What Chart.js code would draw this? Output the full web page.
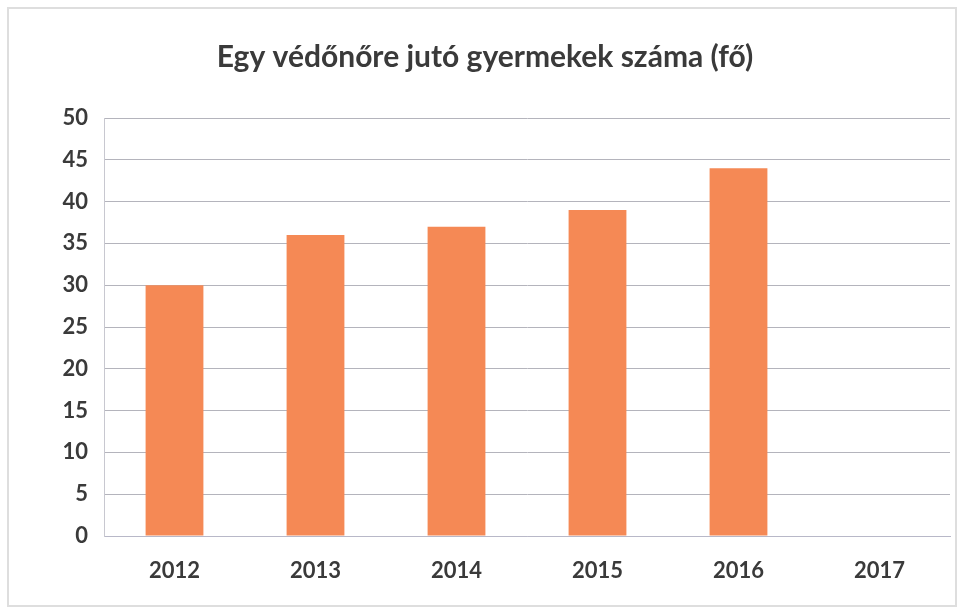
<!DOCTYPE html>
<html>
<head>
<meta charset="utf-8">
<script src="https://cdn.jsdelivr.net/npm/chart.js@4/dist/chart.umd.min.js"></script>
<style>
    html, body { margin: 0; padding: 0; background: #fff; }
    #wrap { position: relative; width: 963px; height: 611px; }
    #frame {
        position: absolute; left: 7px; top: 7px; width: 946px; height: 596px;
        border: 2px solid #dedede; pointer-events: none;
    }
</style>
</head>
<body>
<div id="wrap">
    <canvas id="chart" width="963" height="611"></canvas>
    <div id="frame"></div>
</div>
<script>
// data
const years = ['2012', '2013', '2014', '2015', '2016', '2017'];
const childrenPerNurse = [30, 36, 37, 39, 44, null];
const chartTitle = 'Egy védőnőre jutó gyermekek száma (fő)';

const textColor = '#3a3a3a';
const fontFamily = 'Lato, "Open Sans", sans-serif';

const ctx = document.getElementById('chart').getContext('2d');

new Chart(ctx, {
    type: 'bar',
    data: {
        labels: years,
        datasets: [{
            label: chartTitle,
            data: childrenPerNurse,
            backgroundColor: '#f58955',
            borderWidth: 0,
            categoryPercentage: 1,
            barPercentage: 0.41
        }]
    },
    options: {
        responsive: false,
        animation: false,
        layout: {
            padding: { left: 20, right: 13, top: 20, bottom: 25 }
        },
        plugins: {
            legend: { display: false },
            tooltip: { enabled: false },
            title: {
                display: true,
                text: chartTitle,
                color: textColor,
                font: { family: fontFamily, size: 30, weight: 'bold' },
                padding: { top: 19, bottom: 43 }
            }
        },
        scales: {
            x: {
                grid: { display: false, drawTicks: false },
                border: { display: true, color: '#b8b8c8', width: 1 },
                ticks: {
                    color: textColor,
                    font: { family: fontFamily, size: 22, weight: 'bold' },
                    padding: 22
                },
                afterFit: (scale) => { scale.height = 50; }
            },
            y: {
                min: 0,
                max: 50,
                ticks: {
                    stepSize: 5,
                    color: textColor,
                    font: { family: fontFamily, size: 22, weight: 'bold' },
                    padding: 16
                },
                grid: { color: '#b4b4bc', lineWidth: 1, drawTicks: false },
                border: { display: true, color: '#c8c8d0', width: 1 },
                afterFit: (scale) => { scale.width = 84; }
            }
        }
    }
});
</script>
</body>
</html>
